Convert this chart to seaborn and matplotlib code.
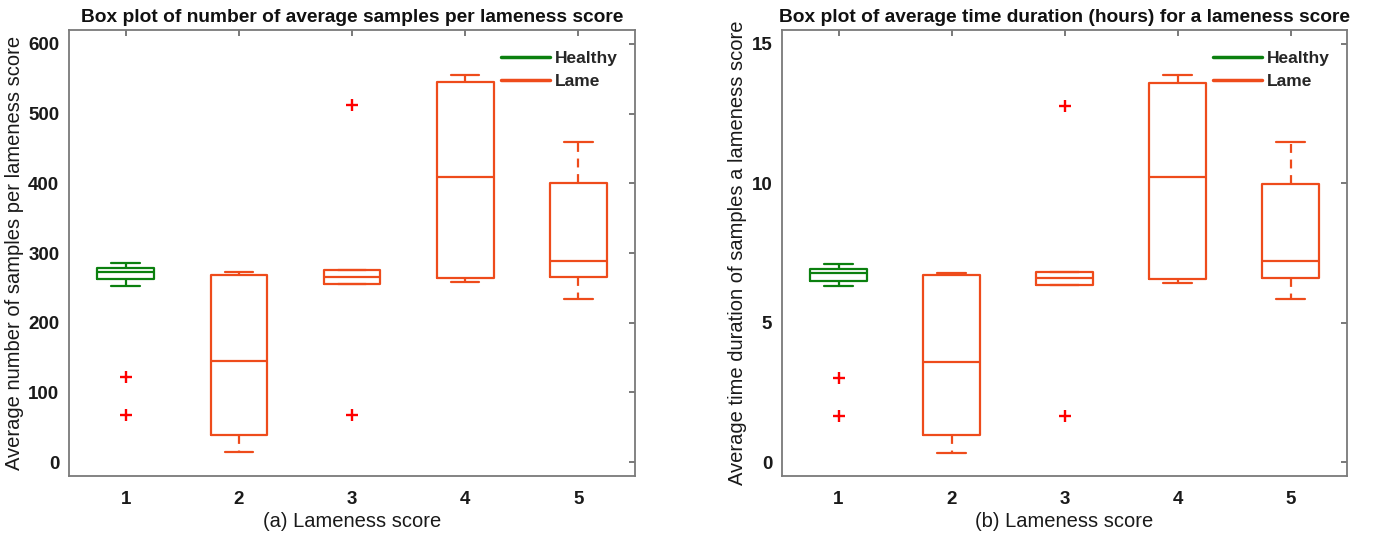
import numpy as np
import pandas as pd
import matplotlib
matplotlib.use("Agg")
import matplotlib.pyplot as plt
from matplotlib.lines import Line2D
import seaborn as sns

# ---------------- data ----------------
scores = [1, 2, 3, 4, 5]
status = ["Healthy", "Lame", "Lame", "Lame", "Lame"]

# (a) average number of samples per lameness score
samples_lower_whisker = [253, 15, 255, 258, 234]
samples_q1 = [262, 39, 255, 264, 265]
samples_median = [273, 145, 265, 409, 288]
samples_q3 = [279, 269, 275, 545, 400]
samples_upper_whisker = [285, 273, 275, 556, 460]
samples_outlier_scores = [1, 1, 3, 3]
samples_outlier_values = [122, 68, 513, 68]

# (b) average time duration (hours) per lameness score
hours_lower_whisker = [6.30, 0.34, 6.36, 6.42, 5.85]
hours_q1 = [6.50, 0.96, 6.36, 6.56, 6.61]
hours_median = [6.78, 3.60, 6.61, 10.21, 7.20]
hours_q3 = [6.94, 6.71, 6.83, 13.59, 9.99]
hours_upper_whisker = [7.10, 6.78, 6.83, 13.88, 11.49]
hours_outlier_scores = [1, 1, 3, 3]
hours_outlier_values = [3.03, 1.67, 12.79, 1.67]

titles = ["Box plot of number of average samples per lameness score",
          "Box plot of average time duration (hours) for a lameness score"]
ylabels = ["Average number of samples per lameness score",
           "Average time duration of samples a lameness score"]
xlabels = ["(a) Lameness score", "(b) Lameness score"]

GREEN = "#0B800F"
ORANGE = "#EE4B1B"
palette = {"Healthy": GREEN, "Lame": ORANGE}

sns.set_theme(style="white")
plt.rcParams["font.family"] = ["Liberation Sans", "DejaVu Sans"]


def summary_table(lo, q1, med, q3, hi):
    rows = []
    for s, st, a, b, c, d, e in zip(scores, status, lo, q1, med, q3, hi):
        for v in (a, b, c, d, e):
            rows.append({"score": s, "status": st, "value": v})
    return pd.DataFrame(rows)


fig = plt.figure(figsize=(13.81, 5.34), dpi=100)
ax_a = fig.add_axes([0.050, 0.1086, 0.4098, 0.8352])
ax_b = fig.add_axes([0.5663, 0.1086, 0.4091, 0.8352])

panels = [
    (ax_a, summary_table(samples_lower_whisker, samples_q1, samples_median,
                         samples_q3, samples_upper_whisker),
     samples_outlier_scores, samples_outlier_values, (-20, 620), [0, 100, 200, 300, 400, 500, 600]),
    (ax_b, summary_table(hours_lower_whisker, hours_q1, hours_median,
                         hours_q3, hours_upper_whisker),
     hours_outlier_scores, hours_outlier_values, (-0.5, 15.5), [0, 5, 10, 15]),
]

for i, (ax, df, osc, oval, ylim, yticks) in enumerate(panels):
    sns.boxplot(data=df, x="score", y="value", hue="status", palette=palette,
                native_scale=True, dodge=False, fill=False, width=0.5,
                whis=(0, 100), showfliers=False, linewidth=1.6,
                whiskerprops=dict(linestyle=(0, (4, 3))),
                legend=False, ax=ax)
    sns.scatterplot(x=osc, y=oval, marker="+", color="#FF0000", s=80,
                    linewidth=1.7, ax=ax, legend=False, zorder=5)
    ax.set_xlim(0.5, 5.5)
    ax.set_ylim(*ylim)
    ax.set_xticks(scores)
    ax.set_xticklabels([str(s) for s in scores])
    ax.set_yticks(yticks)
    ax.tick_params(direction="in", top=True, right=True, length=4, width=1.1,
                   color="#555555", labelsize=13.5)
    ax.tick_params(axis="x", pad=11)
    ax.tick_params(axis="y", pad=7)
    for lab in ax.get_xticklabels() + ax.get_yticklabels():
        lab.set_fontweight("bold")
        lab.set_color("#1a1a1a")
    for sp in ax.spines.values():
        sp.set_color("#7a7a7a")
        sp.set_linewidth(1.3)
    ax.set_title(titles[i], fontsize=13.8, fontweight="bold", color="#111111", pad=6)
    ax.set_xlabel(xlabels[i], fontsize=14.5, color="#1a1a1a", labelpad=3)
    ax.set_ylabel(ylabels[i], fontsize=14.5, color="#1a1a1a", labelpad=3)
    handles = [Line2D([0], [0], color=GREEN, lw=2.5),
               Line2D([0], [0], color=ORANGE, lw=2.5)]
    ax.legend(handles, ["Healthy", "Lame"], loc="upper right", frameon=False,
              bbox_to_anchor=(0.9947, 0.9843),
              prop={"weight": "bold", "size": 12.5}, handlelength=2.8,
              handletextpad=0.3, labelspacing=0.45, borderaxespad=0.4)

fig.savefig("out.png", dpi=100)
